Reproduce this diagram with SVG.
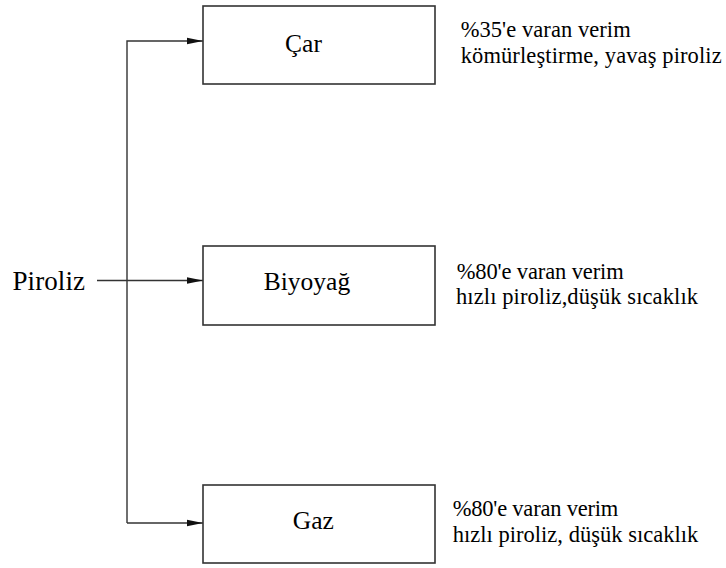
<svg xmlns="http://www.w3.org/2000/svg" width="726" height="568" viewBox="0 0 726 568">
<style>
.box{fill:#fff;stroke:#333;stroke-width:1.6}
.ln{fill:none;stroke:#333;stroke-width:1.4}
text{font-family:'Liberation Serif','Times New Roman','DejaVu Serif',serif;fill:#000}
.lbl{font-size:25.5px}
.note{font-size:22.5px}
</style>
<defs>
<marker id="ah" markerWidth="16" markerHeight="8" refX="16" refY="4" orient="auto" markerUnits="userSpaceOnUse">
<path d="M0,0.8 L16,4 L0,7.2 Z" fill="#111"/>
</marker>
</defs>
<rect width="726" height="568" fill="#fff"/>
<g id="connectors">
<line class="ln" x1="97" y1="280.5" x2="203" y2="280.5" marker-end="url(#ah)"/>
<polyline class="ln" points="127,523 127,41 203,41" marker-end="url(#ah)"/>
<line class="ln" x1="127" y1="523" x2="203" y2="523" marker-end="url(#ah)"/>
</g>
<g id="piroliz">
<text x="12.5" y="290" style="font-size:27px" textLength="72.5">Piroliz</text>
</g>
<g id="car">
<rect class="box" x="203" y="6" width="232" height="78"/>
<text class="lbl" x="303.5" y="51.5" text-anchor="middle">Çar</text>
</g>
<g id="biyoyag">
<rect class="box" x="203" y="246" width="232" height="79"/>
<text class="lbl" x="307" y="289.5" text-anchor="middle">Biyoyağ</text>
</g>
<g id="gaz">
<rect class="box" x="203" y="485" width="232" height="78"/>
<text class="lbl" x="313.3" y="529.3" text-anchor="middle">Gaz</text>
</g>
<g id="note-car">
<text class="note" x="460.7" y="36.7" textLength="170" lengthAdjust="spacing">%35'e varan verim</text>
<text class="note" x="460.7" y="63.3" textLength="261" lengthAdjust="spacing">kömürleştirme, yavaş piroliz</text>
</g>
<g id="note-biyoyag">
<text class="note" x="456.7" y="279.3" textLength="167" lengthAdjust="spacing">%80'e varan verim</text>
<text class="note" x="456" y="304.3" textLength="242" lengthAdjust="spacing">hızlı piroliz,düşük sıcaklık</text>
</g>
<g id="note-gaz">
<text class="note" x="452.7" y="516" textLength="165.6" lengthAdjust="spacing">%80'e varan verim</text>
<text class="note" x="452.7" y="541.7" textLength="245.6" lengthAdjust="spacing">hızlı piroliz, düşük sıcaklık</text>
</g>
</svg>
